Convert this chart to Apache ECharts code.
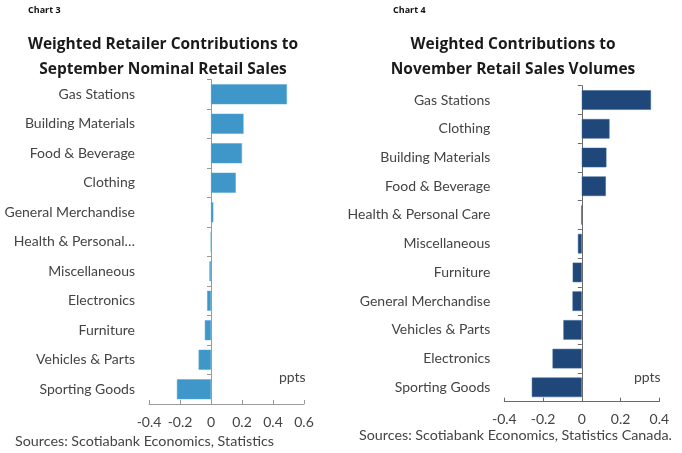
<!DOCTYPE html>
<html><head><meta charset="utf-8">
<script src="https://cdn.jsdelivr.net/npm/echarts@6/dist/echarts.min.js"></script>
<style>html,body{margin:0;padding:0;background:#fff}#c{width:682px;height:453px}</style>
</head><body><div id="c"></div>
<script>
const categories3 = ["Gas Stations","Building Materials","Food & Beverage","Clothing","General Merchandise","Health & Personal…","Miscellaneous","Electronics","Furniture","Vehicles & Parts","Sporting Goods"];
const values3 = [0.49, 0.21, 0.20, 0.16, 0.015, 0, -0.01, -0.025, -0.04, -0.08, -0.22];
const categories4 = ["Gas Stations","Clothing","Building Materials","Food & Beverage","Health & Personal Care","Miscellaneous","Furniture","General Merchandise","Vehicles & Parts","Electronics","Sporting Goods"];
const values4 = [0.357, 0.143, 0.127, 0.124, -0.003, -0.02, -0.047, -0.048, -0.095, -0.151, -0.258];
const ticks3 = {min:-0.4, max:0.6, interval:0.2};
const ticks4 = {min:-0.4, max:0.4, interval:0.2};

const FONT = 'Lato';
const axisCols = ['#9a9a9a', '#6a6a6a'];
const labCol = '#444444';
const chart = echarts.init(document.getElementById('c'), null, {renderer:'canvas'});
function fmt(v){ return Math.abs(v)<1e-9 ? '0' : String(Math.round(v*10)/10); }
const grids = [
  {left:149, right:378, top:79.5, bottom:49},
  {left:504.3, right:22.7, top:85.7, bottom:51.3}
];
function xAxis(i, t){
  return {type:'value', gridIndex:i, min:t.min, max:t.max, interval:t.interval,
    axisLine:{show:true, onZero:false, lineStyle:{color:axisCols[i]}},
    axisTick:{show:true, inside:true, length:4, lineStyle:{color:axisCols[i]}},
    splitLine:{show:false},
    axisLabel:{fontFamily:FONT, fontSize:14, color:labCol, margin:11, formatter:fmt}};
}
function yLabels(i, cats){
  return {type:'category', gridIndex:i, data:cats, inverse:true,
    axisLine:{show:false, onZero:false}, axisTick:{show:false},
    axisLabel:{fontFamily:FONT, fontSize:14, color:labCol, margin:14}};
}
function yLine(i, cats){
  return {type:'category', gridIndex:i, data:cats, inverse:true,
    axisLine:{show:true, onZero:true, lineStyle:{color:axisCols[i]}},
    axisTick:{show:true, inside:true, length:4, lineStyle:{color:axisCols[i]}},
    axisLabel:{show:false}};
}
function txt(text, left, top, size, weight, extra){
  return Object.assign({text:text, left:left, top:top, padding:0,
    textStyle:{fontFamily:FONT, fontSize:size, fontWeight:weight, color:labCol}}, extra||{});
}
chart.setOption({
  animation:false,
  textStyle:{fontFamily:FONT},
  title:[
    {text:'Chart 3', left:28, top:6, padding:0, textStyle:{fontFamily:'Open Sans', fontSize:9, fontWeight:'bold', color:'#111'}},
    {text:'Chart 4', left:393, top:6, padding:0, textStyle:{fontFamily:'Open Sans', fontSize:9, fontWeight:'bold', color:'#111'}},
    {text:'Weighted Retailer Contributions to\nSeptember Nominal Retail Sales', left:163, top:32, padding:0, textAlign:'center',
      textStyle:{fontFamily:'Open Sans', fontSize:15.5, fontWeight:'bold', color:'#1a1a1a', lineHeight:25}},
    {text:'Weighted Contributions to\nNovember Retail Sales Volumes', left:513, top:32, padding:0, textAlign:'center',
      textStyle:{fontFamily:'Open Sans', fontSize:15.5, fontWeight:'bold', color:'#1a1a1a', lineHeight:25}},
    txt('ppts', 279, 370, 14, 'normal'),
    txt('ppts', 634, 370, 14, 'normal'),
    txt('Sources: Scotiabank Economics, Statistics', 15, 434, 14.3, 'normal'),
    txt('Sources: Scotiabank Economics, Statistics Canada.', 359, 428, 14.3, 'normal')
  ],
  grid:grids,
  xAxis:[xAxis(0, ticks3), xAxis(1, ticks4)],
  yAxis:[yLabels(0, categories3), yLine(0, categories3), yLabels(1, categories4), yLine(1, categories4)],
  series:[
    {type:'bar', xAxisIndex:0, yAxisIndex:1, data:values3, barCategoryGap:'32%',
      itemStyle:{color:'#3e96c9', borderColor:'#5aa9d8', borderWidth:0.5}},
    {type:'bar', xAxisIndex:1, yAxisIndex:3, data:values4, barCategoryGap:'32%',
      itemStyle:{color:'#1f477a', borderColor:'#3a6496', borderWidth:0.5}}
  ]
});
</script></body></html>
